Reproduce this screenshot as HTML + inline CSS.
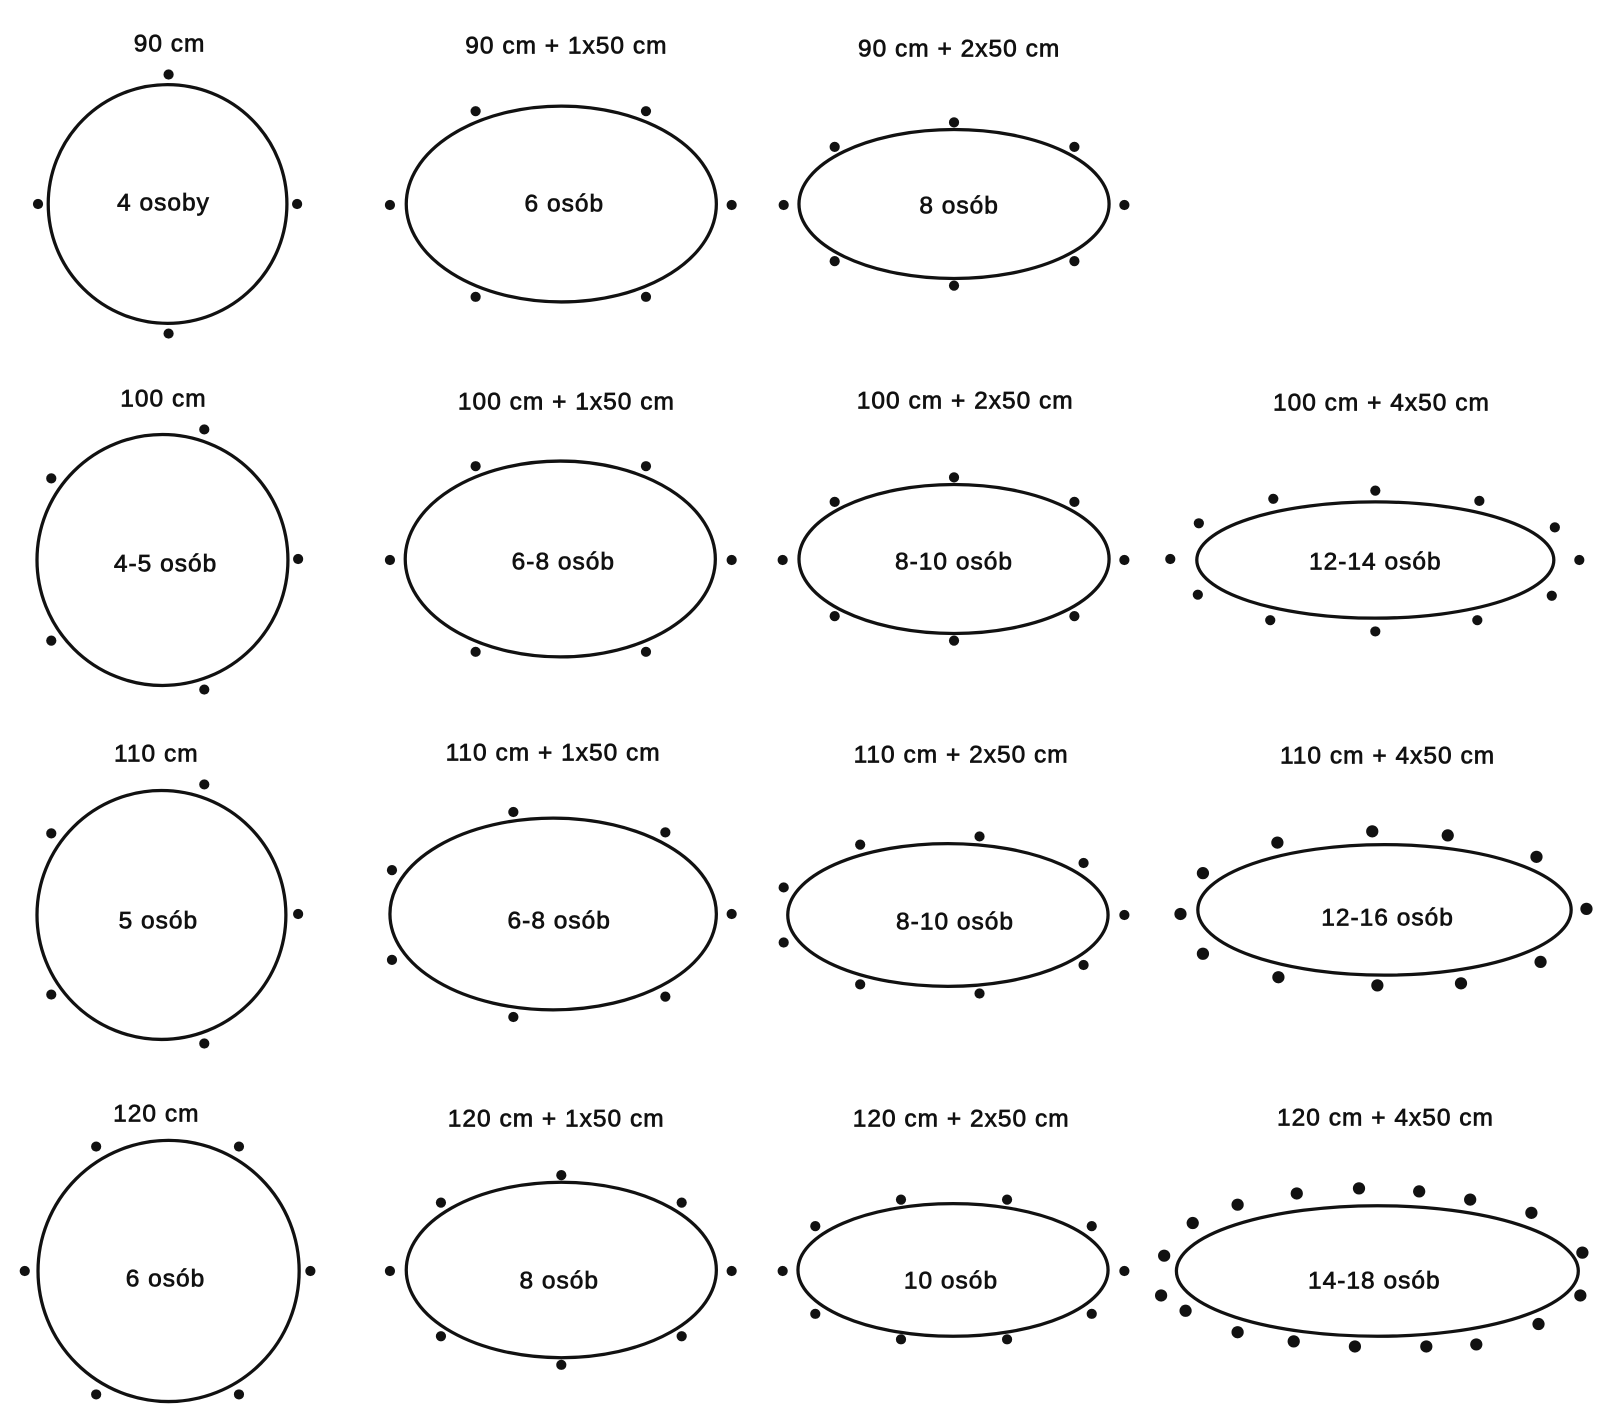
<!DOCTYPE html>
<html><head><meta charset="utf-8"><style>html,body{margin:0;padding:0;background:#fff}svg{display:block}</style></head>
<body>
<svg width="1600" height="1424" viewBox="0 0 1568 1396" xmlns="http://www.w3.org/2000/svg">
<rect width="1568" height="1396" fill="#fff"/>
<g fill="none" stroke="#111" stroke-width="3.2">
<circle cx="164" cy="200" r="117"/>
<ellipse cx="550" cy="200" rx="152" ry="96"/>
<ellipse cx="935" cy="200" rx="152" ry="73"/>
<circle cx="159" cy="549" r="123"/>
<ellipse cx="549" cy="548" rx="152" ry="96"/>
<ellipse cx="935" cy="548" rx="152" ry="73"/>
<ellipse cx="1348" cy="549" rx="175" ry="57"/>
<circle cx="158" cy="897" r="122"/>
<ellipse cx="542" cy="896" rx="160" ry="94"/>
<ellipse cx="929" cy="897" rx="157" ry="70"/>
<ellipse cx="1357" cy="892" rx="183" ry="64"/>
<circle cx="165" cy="1246" r="128"/>
<ellipse cx="550" cy="1245" rx="152" ry="86"/>
<ellipse cx="934" cy="1245" rx="152" ry="65"/>
<ellipse cx="1350" cy="1246" rx="197" ry="64"/>
</g>
<g fill="#111">
<circle cx="165" cy="73" r="5"/><circle cx="37" cy="200" r="5"/><circle cx="291" cy="200" r="5"/><circle cx="165" cy="327" r="5"/>
<circle cx="466" cy="109" r="5"/><circle cx="633" cy="109" r="5"/><circle cx="382" cy="201" r="5"/><circle cx="717" cy="201" r="5"/><circle cx="466" cy="291" r="5"/><circle cx="633" cy="291" r="5"/>
<circle cx="818" cy="144" r="5"/><circle cx="935" cy="120" r="5"/><circle cx="1053" cy="144" r="5"/><circle cx="768" cy="201" r="5"/><circle cx="1102" cy="201" r="5"/><circle cx="818" cy="256" r="5"/><circle cx="935" cy="280" r="5"/><circle cx="1053" cy="256" r="5"/>
<circle cx="200" cy="421" r="5"/><circle cx="50" cy="469" r="5"/><circle cx="292" cy="548" r="5"/><circle cx="50" cy="628" r="5"/><circle cx="200" cy="676" r="5"/>
<circle cx="466" cy="457" r="5"/><circle cx="633" cy="457" r="5"/><circle cx="382" cy="549" r="5"/><circle cx="717" cy="549" r="5"/><circle cx="466" cy="639" r="5"/><circle cx="633" cy="639" r="5"/>
<circle cx="818" cy="492" r="5"/><circle cx="935" cy="468" r="5"/><circle cx="1053" cy="492" r="5"/><circle cx="767" cy="549" r="5"/><circle cx="1102" cy="549" r="5"/><circle cx="818" cy="604" r="5"/><circle cx="935" cy="628" r="5"/><circle cx="1053" cy="604" r="5"/>
<circle cx="1248" cy="489" r="5"/><circle cx="1348" cy="481" r="5"/><circle cx="1450" cy="491" r="5"/><circle cx="1524" cy="517" r="5"/><circle cx="1548" cy="549" r="5"/><circle cx="1521" cy="584" r="5"/><circle cx="1448" cy="608" r="5"/><circle cx="1348" cy="619" r="5"/><circle cx="1245" cy="608" r="5"/><circle cx="1174" cy="583" r="5"/><circle cx="1147" cy="548" r="5"/><circle cx="1175" cy="513" r="5"/>
<circle cx="200" cy="769" r="5"/><circle cx="50" cy="817" r="5"/><circle cx="292" cy="896" r="5"/><circle cx="50" cy="975" r="5"/><circle cx="200" cy="1023" r="5"/>
<circle cx="503" cy="796" r="5"/><circle cx="652" cy="816" r="5"/><circle cx="384" cy="853" r="5"/><circle cx="717" cy="896" r="5"/><circle cx="384" cy="941" r="5"/><circle cx="652" cy="977" r="5"/><circle cx="503" cy="997" r="5"/>
<circle cx="843" cy="828" r="5"/><circle cx="960" cy="820" r="5"/><circle cx="1062" cy="846" r="5"/><circle cx="768" cy="870" r="5"/><circle cx="1102" cy="897" r="5"/><circle cx="768" cy="924" r="5"/><circle cx="1062" cy="946" r="5"/><circle cx="843" cy="965" r="5"/><circle cx="960" cy="974" r="5"/>
<circle cx="1252" cy="826" r="6"/><circle cx="1345" cy="815" r="6"/><circle cx="1419" cy="819" r="6"/><circle cx="1506" cy="840" r="6"/><circle cx="1555" cy="891" r="6"/><circle cx="1510" cy="943" r="6"/><circle cx="1432" cy="964" r="6"/><circle cx="1350" cy="966" r="6"/><circle cx="1253" cy="958" r="6"/><circle cx="1179" cy="935" r="6"/><circle cx="1157" cy="896" r="6"/><circle cx="1179" cy="856" r="6"/>
<circle cx="94" cy="1124" r="5"/><circle cx="234" cy="1124" r="5"/><circle cx="24" cy="1246" r="5"/><circle cx="304" cy="1246" r="5"/><circle cx="94" cy="1367" r="5"/><circle cx="234" cy="1367" r="5"/>
<circle cx="550" cy="1152" r="5"/><circle cx="432" cy="1179" r="5"/><circle cx="668" cy="1179" r="5"/><circle cx="382" cy="1246" r="5"/><circle cx="717" cy="1246" r="5"/><circle cx="432" cy="1310" r="5"/><circle cx="668" cy="1310" r="5"/><circle cx="550" cy="1338" r="5"/>
<circle cx="883" cy="1176" r="5"/><circle cx="987" cy="1176" r="5"/><circle cx="799" cy="1202" r="5"/><circle cx="1070" cy="1202" r="5"/><circle cx="767" cy="1246" r="5"/><circle cx="1102" cy="1246" r="5"/><circle cx="799" cy="1288" r="5"/><circle cx="1070" cy="1288" r="5"/><circle cx="883" cy="1313" r="5"/><circle cx="987" cy="1313" r="5"/>
<circle cx="1213" cy="1181" r="6"/><circle cx="1271" cy="1170" r="6"/><circle cx="1332" cy="1165" r="6"/><circle cx="1391" cy="1168" r="6"/><circle cx="1441" cy="1176" r="6"/><circle cx="1501" cy="1189" r="6"/><circle cx="1551" cy="1228" r="6"/><circle cx="1549" cy="1270" r="6"/><circle cx="1508" cy="1298" r="6"/><circle cx="1447" cy="1318" r="6"/><circle cx="1398" cy="1320" r="6"/><circle cx="1328" cy="1320" r="6"/><circle cx="1268" cy="1315" r="6"/><circle cx="1213" cy="1306" r="6"/><circle cx="1162" cy="1285" r="6"/><circle cx="1138" cy="1270" r="6"/><circle cx="1141" cy="1231" r="6"/><circle cx="1169" cy="1199" r="6"/>
</g>
<g font-family="Liberation Sans, sans-serif" font-size="24" letter-spacing="1" fill="#111" stroke="#111" stroke-width="0.7" text-anchor="middle" dominant-baseline="central">
<text x="166" y="43">90 cm</text><text x="555" y="45">90 cm + 1x50 cm</text><text x="940" y="48">90 cm + 2x50 cm</text>
<text x="160" y="391">100 cm</text><text x="555" y="394">100 cm + 1x50 cm</text><text x="946" y="393">100 cm + 2x50 cm</text><text x="1354" y="395">100 cm + 4x50 cm</text>
<text x="153" y="739">110 cm</text><text x="542" y="738">110 cm + 1x50 cm</text><text x="942" y="740">110 cm + 2x50 cm</text><text x="1360" y="741">110 cm + 4x50 cm</text>
<text x="153" y="1092">120 cm</text><text x="545" y="1097">120 cm + 1x50 cm</text><text x="942" y="1097">120 cm + 2x50 cm</text><text x="1358" y="1096">120 cm + 4x50 cm</text>
<text x="160" y="199">4 osoby</text><text x="553" y="200">6 osób</text><text x="940" y="202">8 osób</text>
<text x="162" y="553">4-5 osób</text><text x="552" y="551">6-8 osób</text><text x="935" y="551">8-10 osób</text><text x="1348" y="551">12-14 osób</text>
<text x="155" y="903">5 osób</text><text x="548" y="903">6-8 osób</text><text x="936" y="904">8-10 osób</text><text x="1360" y="900">12-16 osób</text>
<text x="162" y="1254">6 osób</text><text x="548" y="1256">8 osób</text><text x="932" y="1256">10 osób</text><text x="1347" y="1256">14-18 osób</text>
</g>
</svg>
</body></html>
